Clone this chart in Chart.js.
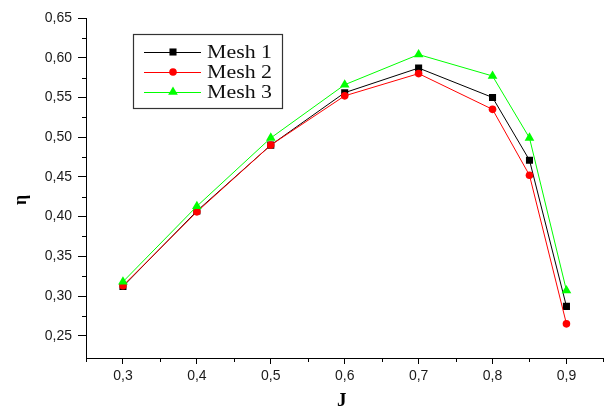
<!DOCTYPE html>
<html>
<head>
<meta charset="utf-8">
<script src="https://cdn.jsdelivr.net/npm/chart.js@4"></script>
<style>
  html, body { margin: 0; padding: 0; background: #fff; }
  #wrap { width: 609px; height: 409px; position: relative; }
</style>
</head>
<body>
<div id="wrap"><canvas id="c"></canvas></div>
<script>
// Advance ratio J and efficiency for three mesh densities
const advanceRatio = [0.3, 0.4, 0.5, 0.6, 0.7, 0.8, 0.85, 0.9];
const mesh1 = [0.312, 0.407, 0.490, 0.556, 0.587, 0.550, 0.471, 0.287];
const mesh2 = [0.313, 0.406, 0.490, 0.552, 0.580, 0.535, 0.452, 0.265];
const mesh3 = [0.318, 0.413, 0.499, 0.566, 0.604, 0.577, 0.499, 0.307];
const seriesNames = ['Mesh 1', 'Mesh 2', 'Mesh 3'];
const xTickValues = [0.3, 0.4, 0.5, 0.6, 0.7, 0.8, 0.9];
const yTickValues = [0.25, 0.30, 0.35, 0.40, 0.45, 0.50, 0.55, 0.60, 0.65];
const xMinorValues = [0.25, 0.35, 0.45, 0.55, 0.65, 0.75, 0.85, 0.95];
const yMinorValues = [0.275, 0.325, 0.375, 0.425, 0.475, 0.525, 0.575, 0.625];

const toPoints = ys => advanceRatio.map((x, i) => ({ x: x, y: ys[i] }));
const comma = (v, d) => v.toFixed(d).replace('.', ',');

const styles = [
  { color: '#000000', shape: 'rect',     radius: 5,   order: 3 },
  { color: '#ff0000', shape: 'circle',   radius: 3.8, order: 2 },
  { color: '#00ff00', shape: 'triangle', radius: 5.6, order: 1 }
];
const seriesData = [mesh1, mesh2, mesh3];

const datasets = seriesData.map((ys, i) => ({
  label: seriesNames[i],
  data: toPoints(ys),
  borderColor: styles[i].color,
  backgroundColor: styles[i].color,
  borderWidth: 1,
  pointStyle: styles[i].shape,
  pointRadius: styles[i].radius,
  pointBorderWidth: 0,
  pointBackgroundColor: styles[i].color,
  order: styles[i].order,
  tension: 0
}));

// Minor ticks, axis titles and the boxed legend
const decorations = {
  id: 'decorations',
  afterDraw(chart) {
    const ctx = chart.ctx;
    const xs = chart.scales.x, ys = chart.scales.y;
    const area = chart.chartArea;
    ctx.save();
    ctx.strokeStyle = '#000';
    ctx.lineWidth = 1;
    ctx.beginPath();
    yMinorValues.forEach(v => {
      const py = Math.round(ys.getPixelForValue(v)) + 0.5;
      ctx.moveTo(area.left - 4, py);
      ctx.lineTo(area.left, py);
    });
    xMinorValues.forEach(v => {
      const px = Math.round(xs.getPixelForValue(v)) + 0.5;
      ctx.moveTo(px, area.bottom);
      ctx.lineTo(px, area.bottom + 4);
    });
    ctx.stroke();

    // axis titles
    ctx.fillStyle = '#000';
    ctx.textAlign = 'center';
    ctx.textBaseline = 'middle';
    ctx.font = 'bold 19px "Liberation Serif", "Times New Roman", serif';
    ctx.fillText('J', (area.left + area.right) / 2 - 3, 401);
    ctx.save();
    ctx.translate(21, 200);
    ctx.rotate(-Math.PI / 2);
    ctx.font = 'bold 18px "Liberation Serif", "Times New Roman", serif';
    ctx.fillText('\u03b7', 0, 0);
    ctx.restore();

    // legend
    const box = { x: 133.5, y: 34.5, w: 149, h: 74 };
    ctx.fillStyle = '#fff';
    ctx.fillRect(box.x, box.y, box.w, box.h);
    ctx.strokeStyle = '#333';
    ctx.lineWidth = 1.2;
    ctx.strokeRect(box.x, box.y, box.w, box.h);
    seriesNames.forEach((name, i) => {
      const rowY = 52 + i * 20;
      ctx.strokeStyle = styles[i].color;
      ctx.lineWidth = 1;
      ctx.beginPath();
      ctx.moveTo(144, rowY + 0.5);
      ctx.lineTo(201, rowY + 0.5);
      ctx.stroke();
      ctx.fillStyle = styles[i].color;
      Chart.helpers.drawPoint(ctx, {
        pointStyle: styles[i].shape,
        radius: styles[i].radius,
        borderWidth: 0
      }, 173, rowY);
      ctx.save();
      ctx.translate(207, rowY + 1);
      ctx.scale(1.15, 1);
      ctx.fillStyle = '#111';
      ctx.textAlign = 'left';
      ctx.textBaseline = 'middle';
      ctx.font = '19px "Liberation Serif", "Times New Roman", serif';
      ctx.fillText(name, 0, 0);
      ctx.restore();
    });
    ctx.restore();
  }
};

new Chart(document.getElementById('c'), {
  type: 'line',
  data: { datasets: datasets },
  options: {
    responsive: true,
    maintainAspectRatio: false,
    animation: false,
    events: [],
    layout: { padding: { top: 18, right: 3, left: 0, bottom: 0 } },
    plugins: {
      legend: { display: false },
      tooltip: { enabled: false },
      title: { display: false }
    },
    scales: {
      x: {
        type: 'linear',
        min: 0.25,
        max: 0.95,
        afterFit(scale) { scale.height = 51; },
        afterBuildTicks(scale) { scale.ticks = xTickValues.map(v => ({ value: v })); },
        border: { display: true, color: '#000', width: 1 },
        grid: { drawOnChartArea: false, drawTicks: true, tickLength: 6, tickColor: '#000', color: '#000' },
        ticks: {
          color: '#1a1a1a',
          padding: 4,
          maxRotation: 0,
          autoSkip: false,
          font: { family: '"Liberation Sans", Arial, sans-serif', size: 14 },
          callback: v => comma(v, 1)
        }
      },
      y: {
        type: 'linear',
        min: 0.222,
        max: 0.65,
        afterFit(scale) { scale.width = 86; },
        afterBuildTicks(scale) { scale.ticks = yTickValues.map(v => ({ value: v })); },
        border: { display: true, color: '#000', width: 1 },
        grid: { drawOnChartArea: false, drawTicks: true, tickLength: 8, tickColor: '#000', color: '#000' },
        ticks: {
          color: '#1a1a1a',
          padding: 6,
          autoSkip: false,
          font: { family: '"Liberation Sans", Arial, sans-serif', size: 14 },
          callback: v => comma(v, 2)
        }
      }
    }
  },
  plugins: [decorations]
});
</script>
</body>
</html>
